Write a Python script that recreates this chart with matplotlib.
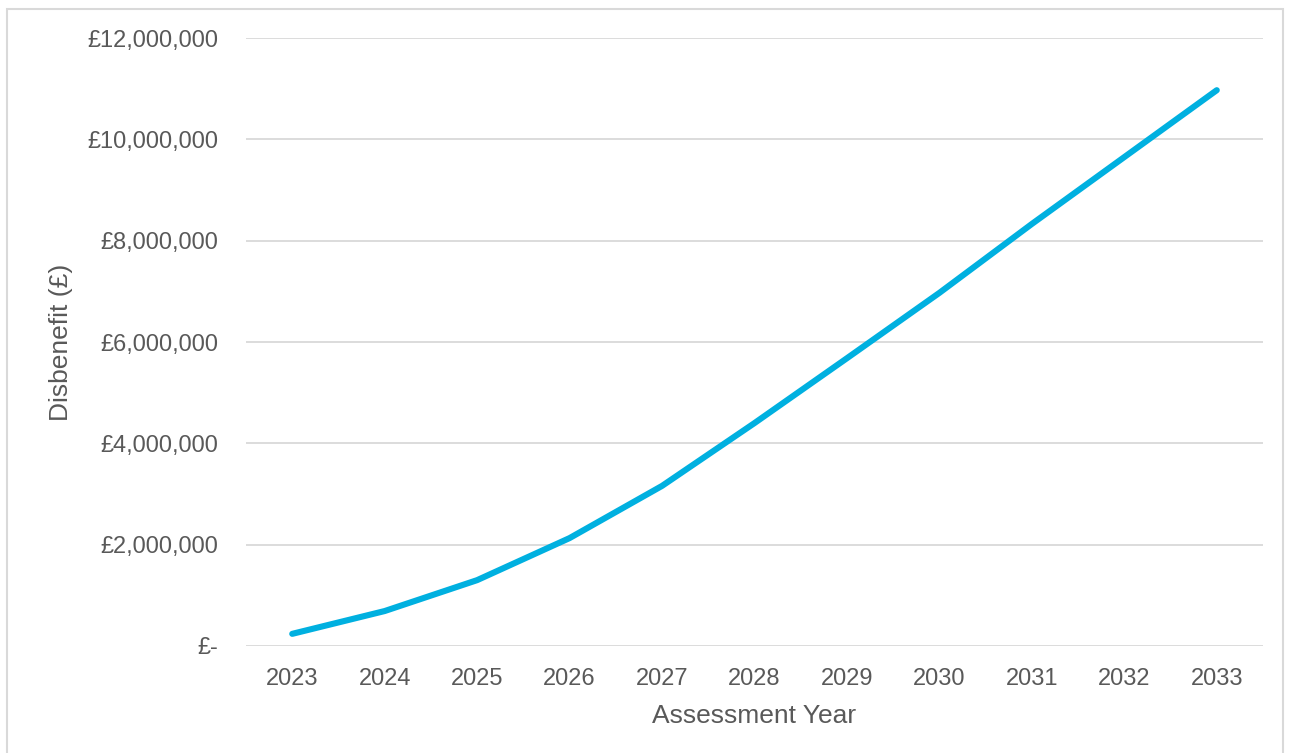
import matplotlib
matplotlib.use("Agg")
import matplotlib.pyplot as plt
from matplotlib.ticker import FuncFormatter, MultipleLocator
from matplotlib.patches import Rectangle

years = ["2023", "2024", "2025", "2026", "2027", "2028", "2029", "2030", "2031", "2032", "2033"]
disbenefit = [240000, 690000, 1300000, 2130000, 3160000, 4400000, 5680000, 6970000, 8330000, 9650000, 10970000]

plt.rcParams['font.family'] = ['Liberation Sans', 'DejaVu Sans']
text_col = '#595959'

fig = plt.figure(figsize=(12.92, 7.53), dpi=100)
ax = fig.add_axes([246/1292, 107/753, 1017/1292, 608/753])

x = list(range(len(years)))
ax.plot(x, disbenefit, color='#00B0E0', lw=4.4, solid_capstyle='round', solid_joinstyle='round', zorder=3)

ax.set_xlim(-0.5, len(years) - 0.5)
ax.set_ylim(0, 12000000)
ax.yaxis.set_major_locator(MultipleLocator(2000000))
ax.yaxis.set_major_formatter(FuncFormatter(lambda v, p: '£-' if v == 0 else '£{:,.0f}'.format(v)))
ax.set_xticks(x)
ax.set_xticklabels(years)

ax.grid(axis='y', color='#D9D9D9', lw=1.3)
ax.set_axisbelow(True)
for s in ax.spines.values():
    s.set_visible(False)
ax.tick_params(axis='both', length=0, colors=text_col, labelsize=17)
ax.tick_params(axis='y', pad=20)
ax.tick_params(axis='x', pad=16)

ax.set_xlabel('Assessment Year', fontsize=19, color=text_col, labelpad=10)
ax.set_ylabel('Disbenefit (£)', fontsize=19, color=text_col, labelpad=10)

fig.patches.append(Rectangle((7/1292, -0.01), (1283-7)/1292, (753-9)/753 + 0.01,
                             transform=fig.transFigure, fill=False, edgecolor='#D9D9D9', lw=1.5))

fig.savefig('out.png', dpi=100)
